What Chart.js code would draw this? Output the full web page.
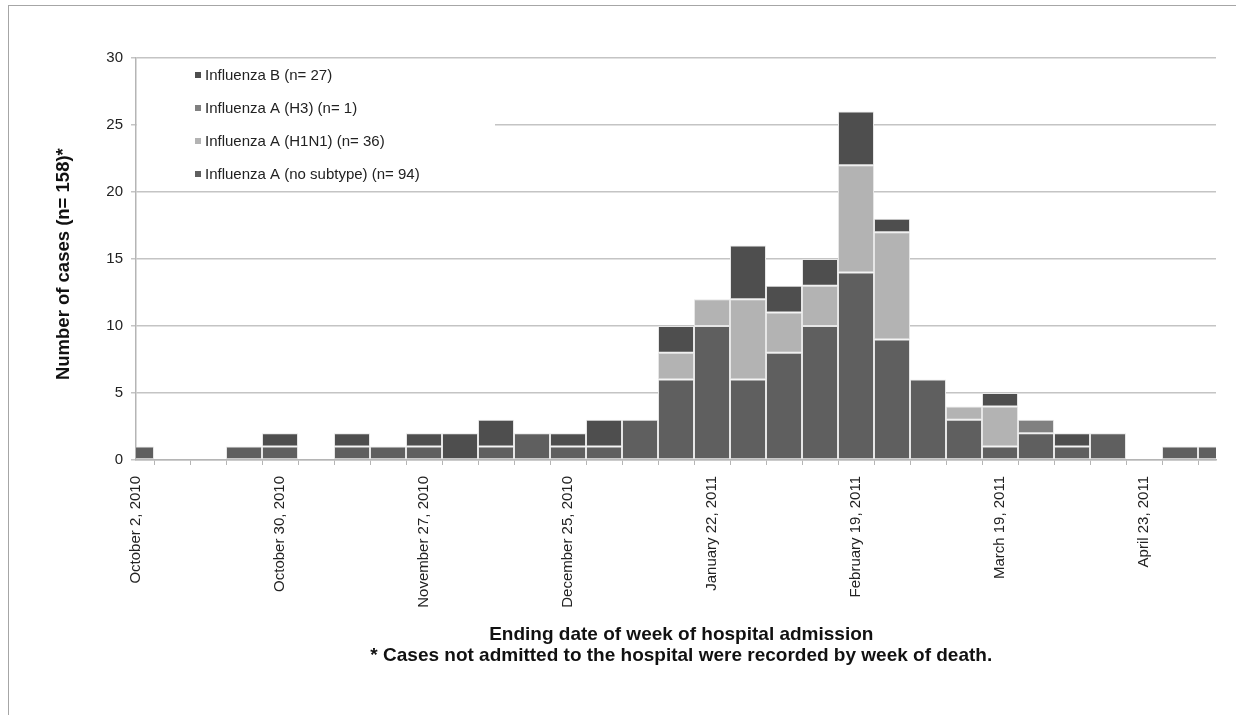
<!DOCTYPE html>
<html>
<head>
<meta charset="utf-8">
<script src="https://cdn.jsdelivr.net/npm/chart.js@4.4.1/dist/chart.umd.min.js"></script>
<style>
  html, body { margin: 0; padding: 0; background: #fff; }
  #wrap { position: relative; width: 1245px; height: 715px; }
  #frame { position: absolute; left: 8px; top: 5px; width: 1227px; height: 720px;
           border-top: 1px solid #a6a6a6; border-left: 1px solid #a6a6a6; pointer-events: none; }
</style>
</head>
<body>
<div id="wrap">
  <canvas id="chart"></canvas>
  <div id="frame"></div>
</div>
<script>
// week-ending labels, only every 4th one is printed on the axis
const weekLabels = [
  'October 2, 2010', '', '', '',
  'October 30, 2010', '', '', '',
  'November 27, 2010', '', '', '',
  'December 25, 2010', '', '', '',
  'January 22, 2011', '', '', '',
  'February 19, 2011', '', '', '',
  'March 19, 2011', '', '', '',
  'April 23, 2011', '', ''
];

const noSubtype = [1, 0, 0, 1, 1, 0, 1, 1, 1, 0, 1, 2, 1, 1, 3, 6, 10, 6, 8, 10, 14, 9, 6, 3, 1, 2, 1, 2, 0, 1, 1];
const h1n1      = [0, 0, 0, 0, 0, 0, 0, 0, 0, 0, 0, 0, 0, 0, 0, 2, 2, 6, 3, 3, 8, 8, 0, 1, 3, 0, 0, 0, 0, 0, 0];
const h3        = [0, 0, 0, 0, 0, 0, 0, 0, 0, 0, 0, 0, 0, 0, 0, 0, 0, 0, 0, 0, 0, 0, 0, 0, 0, 1, 0, 0, 0, 0, 0];
const fluB      = [0, 0, 0, 0, 1, 0, 1, 0, 1, 2, 2, 0, 1, 2, 0, 2, 0, 4, 2, 2, 4, 1, 0, 0, 1, 0, 1, 0, 0, 0, 0];

const yTicks = [0, 5, 10, 15, 20, 25, 30];

const FONT = '"Liberation Sans", Arial, Helvetica, sans-serif';
Chart.defaults.font.family = FONT;
Chart.defaults.color = '#222';

function bar(label, data, color) {
  return {
    label,
    data,
    backgroundColor: color,
    borderColor: '#e6e6e6',
    borderWidth: 1,
    borderSkipped: false,
    inflateAmount: 0,
    categoryPercentage: 1,
    barPercentage: 1,
    clip: 0
  };
}

// legend drawn inside the plot, on a white box that hides the grid behind it
const insideLegend = {
  id: 'insideLegend',
  afterDraw(chart) {
    const { ctx, chartArea: area } = chart;
    ctx.save();
    ctx.fillStyle = '#fff';
    ctx.fillRect(area.left + 1, area.top + 4, 358, 124);
    ctx.font = '15px ' + FONT;
    ctx.textBaseline = 'middle';
    chart.data.datasets.slice().reverse().forEach((d, i) => {
      const y = area.top + 18 + i * 33;
      ctx.fillStyle = d.backgroundColor;
      ctx.fillRect(area.left + 59, y - 4, 6, 6);
      ctx.fillStyle = '#222';
      ctx.fillText(d.label, area.left + 69, y);
    });
    ctx.restore();
  }
};

new Chart(document.getElementById('chart'), {
  type: 'bar',
  data: {
    labels: weekLabels,
    datasets: [
      bar('Influenza A (no subtype) (n= 94)', noSubtype, '#5f5f5f'),
      bar('Influenza A (H1N1) (n= 36)', h1n1, '#b3b3b3'),
      bar('Influenza A (H3) (n= 1)', h3, '#808080'),
      bar('Influenza B (n= 27)', fluB, '#4e4e4e')
    ]
  },
  options: {
    responsive: true,
    maintainAspectRatio: false,
    animation: false,
    layout: { padding: { top: 58, right: 28, left: 0, bottom: 0 } },
    plugins: {
      legend: { display: false },
      tooltip: { enabled: false }
    },
    scales: {
      x: {
        stacked: true,
        offset: false,
        afterFit: (s) => { s.height = 255; },
        border: { display: true, color: '#b5b5b5', width: 1.5 },
        grid: { offset: true, drawOnChartArea: false, drawTicks: true, tickLength: 5, color: '#b5b5b5' },
        ticks: {
          autoSkip: false,
          maxRotation: 90,
          minRotation: 90,
          padding: 11,
          color: '#222',
          font: { size: 15 },
          callback: (v, i) => weekLabels[i]
        },
        title: {
          display: true,
          // leading spaces nudge the centred block a little to the right, as in the original
          text: ['  Ending date of week of hospital admission',
                 '  * Cases not admitted to the hospital were recorded by week of death.'],
          color: '#111',
          font: { size: 19, weight: 'bold', lineHeight: 1.1 },
          padding: { top: 0, bottom: 49 }
        }
      },
      y: {
        stacked: true,
        min: 0,
        max: 30,
        afterFit: (s) => { s.width = 136; },
        afterBuildTicks: (s) => { s.ticks = yTicks.map((v) => ({ value: v })); },
        border: { display: true, color: '#b5b5b5', width: 1.5 },
        grid: { color: '#c4c4c4', lineWidth: 1.5, tickLength: 5 },
        ticks: { padding: 8, color: '#222', font: { size: 15 } },
        title: {
          display: true,
          // trailing spaces push the rotated text slightly down
          text: 'Number of cases (n= 158)*  ',
          color: '#111',
          font: { size: 18.5, weight: 'bold', lineHeight: 1.17 },
          padding: { top: 53, bottom: 0 }
        }
      }
    }
  },
  plugins: [insideLegend]
});
</script>
</body>
</html>
